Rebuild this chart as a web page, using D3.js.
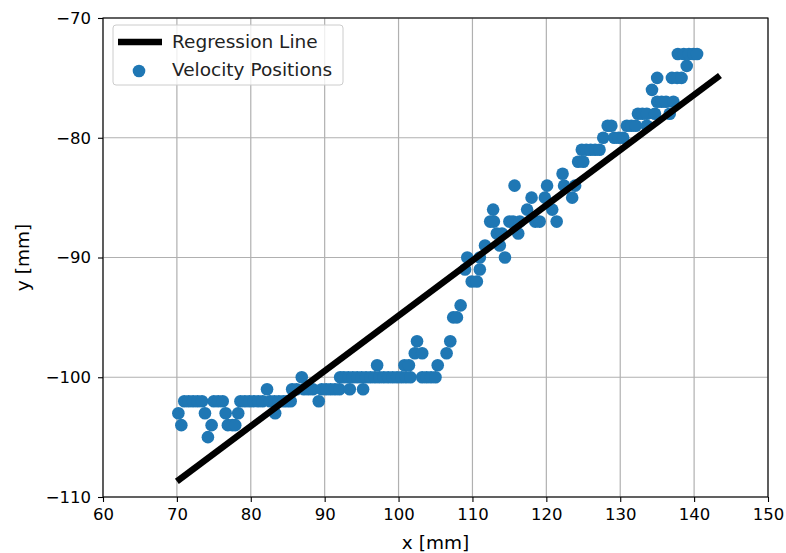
<!DOCTYPE html>
<html>
<head>
<meta charset="utf-8">
<script src="https://cdn.jsdelivr.net/npm/d3@7"></script>
<style>
  body { margin: 0; background: #fff; }
  text { font-family: "DejaVu Sans", sans-serif; }
</style>
</head>
<body>
<div id="chart"></div>
<script>
var pointsX = [70.2,70.6,71.0,71.6,72.2,72.8,73.4,73.8,74.2,74.7,75.0,75.6,76.2,76.6,76.9,77.5,77.9,
  78.3,78.6,79.2,79.8,80.4,81.0,81.6,82.2,82.6,83.2,83.3,83.8,84.4,84.9,85.4,85.6,86.2,86.9,87.2,87.8,88.4,
  89.2,89.6,90.2,90.8,91.4,92.0,92.1,92.6,93.2,93.4,93.8,94.4,95.0,95.2,95.6,96.2,96.8,97.1,97.4,98.0,98.6,
  99.2,99.8,100.4,100.8,101.0,101.4,101.6,102.2,102.5,103.2,103.2,103.8,104.4,105.0,105.3,106.5,107.0,
  107.4,107.9,108.4,109.0,109.3,109.9,110.6,111.0,111.0,111.7,112.4,112.8,112.9,113.3,113.7,114.0,114.4,
  115.0,115.5,115.7,116.2,116.4,117.4,118.0,118.5,119.1,119.8,120.1,120.8,121.4,122.2,122.4,123.5,123.9,
  124.3,124.8,125.0,125.4,126.0,126.6,127.2,127.7,128.3,128.8,129.2,129.8,130.4,130.9,131.5,132.1,132.4,
  133.0,133.6,133.6,134.3,134.7,135.0,135.0,135.6,136.2,136.7,137.2,137.0,137.7,137.8,138.3,138.6,139.0,
  139.3,139.9,140.4];
var pointsY = [-103,-104,-102,-102,-102,-102,-102,-103,-105,-104,-102,-102,-102,-103,-104,-104,-104,
  -103,-102,-102,-102,-102,-102,-102,-101,-102,-102,-103,-102,-102,-102,-102,-101,-101,-100,-101,-101,-101,
  -102,-101,-101,-101,-101,-101,-100,-100,-100,-101,-100,-100,-100,-101,-100,-100,-100,-99,-100,-100,-100,
  -100,-100,-100,-99,-100,-99,-100,-98,-97,-98,-100,-100,-100,-100,-99,-98,-97,
  -95,-95,-94,-91,-90,-92,-92,-91,-90,-89,-87,-86,-87,-88,-89,-88,-90,
  -87,-87,-84,-88,-87,-86,-85,-87,-87,-85,-84,-86,-87,-83,-84,-85,-84,
  -82,-81,-82,-81,-81,-81,-81,-80,-79,-79,-80,-80,-80,-79,-79,-79,-78,
  -78,-79,-78,-76,-78,-75,-77,-77,-77,-78,-77,-75,-75,-73,-75,-73,-74,
  -73,-73,-73];

// regression line end points
var lineX = [70, 143.5];
var lineY = [-108.7, -74.8];

var xTicks = [60, 70, 80, 90, 100, 110, 120, 130, 140, 150];
var yTicks = [-110, -100, -90, -80, -70];

var width = 786, height = 553;
var margin = {top: 18, right: 18, bottom: 56, left: 103};

var svg = d3.select("#chart").append("svg")
  .attr("width", width)
  .attr("height", height);

var x = d3.scaleLinear().domain([60, 150]).range([margin.left, width - margin.right]);
var y = d3.scaleLinear().domain([-110, -70]).range([height - margin.bottom, margin.top]);

var minus = function(d) { return d < 0 ? "\u2212" + Math.abs(d) : "" + d; };

// grid
svg.append("g").selectAll("line").data(xTicks).enter().append("line")
  .attr("x1", function(d) { return x(d); }).attr("x2", function(d) { return x(d); })
  .attr("y1", y(-110)).attr("y2", y(-70))
  .attr("stroke", "#b0b0b0").attr("stroke-width", 1.2);
svg.append("g").selectAll("line").data(yTicks).enter().append("line")
  .attr("y1", function(d) { return y(d); }).attr("y2", function(d) { return y(d); })
  .attr("x1", x(60)).attr("x2", x(150))
  .attr("stroke", "#b0b0b0").attr("stroke-width", 1.2);

// scatter
var pts = pointsX.map(function(d, i) { return [d, pointsY[i]]; });
svg.append("g").selectAll("circle").data(pts).enter().append("circle")
  .attr("cx", function(d) { return x(d[0]); })
  .attr("cy", function(d) { return y(d[1]); })
  .attr("r", 6.3)
  .attr("fill", "#1f77b4");

// regression line
svg.append("line")
  .attr("x1", x(lineX[0])).attr("y1", y(lineY[0]))
  .attr("x2", x(lineX[1])).attr("y2", y(lineY[1]))
  .attr("stroke", "#000").attr("stroke-width", 6.5);

// axes
var xAxis = svg.append("g")
  .attr("transform", "translate(0," + y(-110) + ")")
  .call(d3.axisBottom(x).tickValues(xTicks).tickSize(5).tickPadding(6));
var yAxis = svg.append("g")
  .attr("transform", "translate(" + x(60) + ",0)")
  .call(d3.axisLeft(y).tickValues(yTicks).tickFormat(minus).tickSize(5).tickPadding(7));
[xAxis, yAxis].forEach(function(a) {
  a.select(".domain").remove();
  a.selectAll("text").attr("font-size", 16.5).attr("fill", "#000")
    .attr("font-family", "DejaVu Sans, sans-serif");
  a.selectAll("line").attr("stroke", "#000").attr("stroke-width", 1.1);
});

// frame
svg.append("rect")
  .attr("x", x(60)).attr("y", y(-70))
  .attr("width", x(150) - x(60)).attr("height", y(-110) - y(-70))
  .attr("fill", "none").attr("stroke", "#000").attr("stroke-width", 1.1);

// axis labels
svg.append("text")
  .attr("x", (x(60) + x(150)) / 2).attr("y", 549)
  .attr("text-anchor", "middle").attr("font-size", 18.5)
  .text("x [mm]");
svg.append("text")
  .attr("transform", "translate(29," + (y(-90)) + ")rotate(-90)")
  .attr("text-anchor", "middle").attr("font-size", 18.5)
  .text("y [mm]");

// legend
var lg = svg.append("g");
lg.append("rect")
  .attr("x", 113).attr("y", 25).attr("width", 230).attr("height", 60).attr("rx", 3)
  .attr("fill", "#fff").attr("fill-opacity", 0.8)
  .attr("stroke", "#cccccc").attr("stroke-width", 1);
lg.append("line")
  .attr("x1", 118).attr("x2", 162).attr("y1", 42).attr("y2", 42)
  .attr("stroke", "#000").attr("stroke-width", 6.5);
lg.append("text").attr("x", 172).attr("y", 48).attr("font-size", 18.5).attr("fill", "#222")
  .text("Regression Line");
lg.append("circle").attr("cx", 139).attr("cy", 71).attr("r", 6.3).attr("fill", "#1f77b4");
lg.append("text").attr("x", 172).attr("y", 76).attr("font-size", 18.5).attr("fill", "#222")
  .text("Velocity Positions");
</script>
</body>
</html>
